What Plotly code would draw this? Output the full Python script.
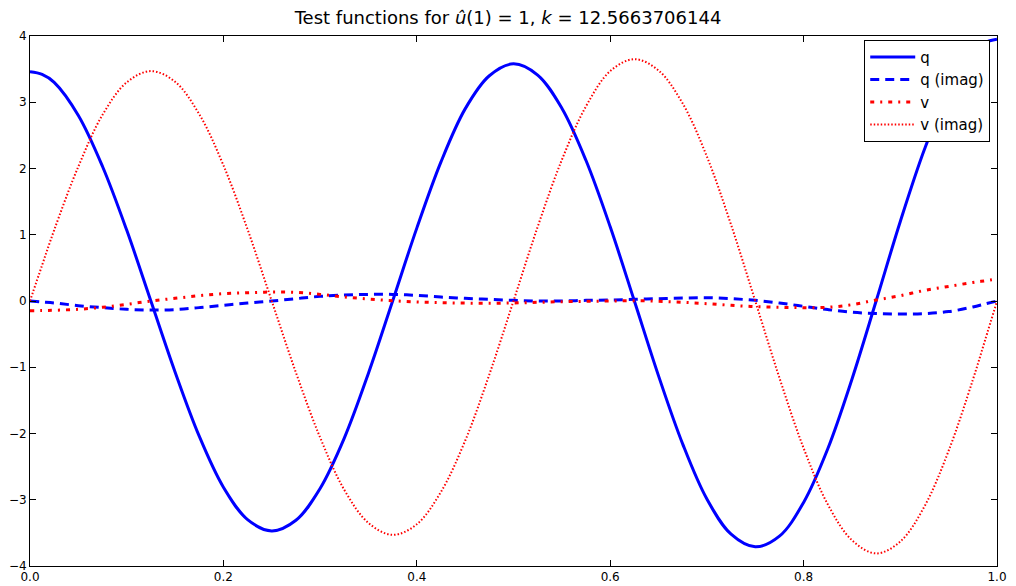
import plotly.graph_objects as go

x = ([0.0, 0.0125] + [i * 0.025 for i in range(1, 40)] + [0.9875, 1.0])

q = [3.46, 3.42, 3.30, 2.80, 2.03, 1.07, 0.0, -1.07, -2.04, -2.81, -3.30, -3.47,
     -3.31, -2.83, -2.07, -1.09, 0.0, 1.10, 2.10, 2.90, 3.40, 3.58,
     3.41, 2.91, 2.12, 1.12, 0.0, -1.13, -2.16, -2.99, -3.52, -3.71,
     -3.55, -3.04, -2.23, -1.18, 0.0, 1.20, 2.29, 3.17, 3.75, 3.90, 3.95]

q_imag = [0.0, -0.015, -0.03, -0.07, -0.10, -0.125, -0.136, -0.13, -0.10, -0.065, -0.03, 0.0,
          0.035, 0.07, 0.09, 0.10, 0.10, 0.085, 0.06, 0.04, 0.025, 0.01,
          0.0, 0.0, 0.01, 0.015, 0.025, 0.035, 0.045, 0.05, 0.035, 0.01,
          -0.03, -0.08, -0.13, -0.17, -0.19, -0.196, -0.19, -0.16, -0.09, -0.045, 0.0]

v = [-0.146, -0.144, -0.14, -0.125, -0.095, -0.05, 0.0, 0.04, 0.08, 0.11, 0.125, 0.135,
     0.13, 0.10, 0.06, 0.03, 0.005, -0.015, -0.025, -0.032, -0.035, -0.03,
     -0.02, -0.01, -0.005, 0.0, 0.005, -0.005, -0.02, -0.04, -0.065, -0.085,
     -0.095, -0.10, -0.095, -0.055, 0.015, 0.08, 0.16, 0.22, 0.28, 0.305, 0.33]

v_imag = [0.0, 0.54, 1.07, 2.03, 2.81, 3.30, 3.47, 3.31, 2.82, 2.05, 1.08, 0.0,
          -1.08, -2.06, -2.85, -3.35, -3.53, -3.37, -2.88, -2.11, -1.11, 0.0,
          1.12, 2.13, 2.94, 3.47, 3.65, 3.48, 2.98, 2.18, 1.15, 0.0,
          -1.16, -2.22, -3.07, -3.61, -3.81, -3.63, -3.10, -2.26, -1.19, -0.60, 0.0]

xticks = [0.0, 0.2, 0.4, 0.6, 0.8, 1.0]
yticks = [-4, -3, -2, -1, 0, 1, 2, 3, 4]

fig = go.Figure()
fig.add_trace(go.Scatter(x=x, y=q, name="q", mode="lines", line_shape="spline",
                         line=dict(color="#0000ff", width=3)))
fig.add_trace(go.Scatter(x=x, y=q_imag, name="q (imag)", mode="lines", line_shape="spline",
                         line=dict(color="#0000ff", width=3, dash="9px,6px")))
fig.add_trace(go.Scatter(x=x, y=v, name="v", mode="lines", line_shape="spline",
                         line=dict(color="#ff0000", width=3, dash="4px,6px,2px,6px")))
fig.add_trace(go.Scatter(x=x, y=v_imag, name="v (imag)", mode="lines", line_shape="spline",
                         line=dict(color="#ff0000", width=2, dash="1.5px,2px")))

axis_common = dict(showgrid=False, zeroline=False, showline=True, linecolor="black",
                   linewidth=1, mirror="ticks", ticks="inside", ticklen=6, automargin=False,
                   tickcolor="black", tickfont=dict(family="DejaVu Sans", size=12, color="black"))

fig.update_xaxes(range=[0, 1], tickvals=xticks, ticktext=[f"{t:.1f}" for t in xticks], **axis_common)
fig.update_yaxes(range=[-4, 4], tickvals=yticks, **axis_common)

fig.update_layout(
    width=1000, height=578,
    margin=dict(l=22, r=11, t=28, b=20),
    paper_bgcolor="white", plot_bgcolor="white",
    title=dict(text="Test functions for <i>u\u0302</i>(1) = 1, <i>k</i> = 12.5663706144",
               x=0.5, xanchor="center", y=0.983, yanchor="middle",
               font=dict(family="DejaVu Sans", size=18, color="black")),
    legend=dict(x=0.993, y=0.993, xanchor="right", yanchor="top",
                bgcolor="white", bordercolor="black", borderwidth=1,
                font=dict(family="DejaVu Sans", size=15, color="black"),
                tracegroupgap=4, itemwidth=45),
    showlegend=True,
)

fig.write_html("out.html")
